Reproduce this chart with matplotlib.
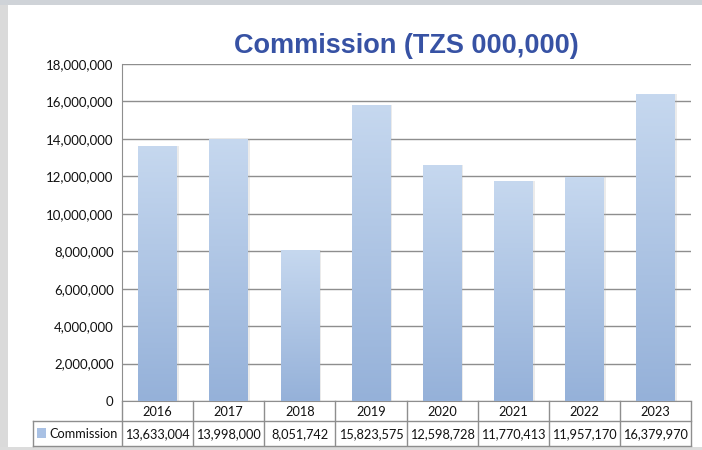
import numpy as np
import matplotlib
matplotlib.use('Agg')
import matplotlib.pyplot as plt
from matplotlib.patches import Rectangle
from matplotlib.transforms import blended_transform_factory
from matplotlib.ticker import FuncFormatter

# data
years = ['2016', '2017', '2018', '2019', '2020', '2021', '2022', '2023']
commission = [13633004, 13998000, 8051742, 15823575, 12598728, 11770413, 11957170, 16379970]
yticks = [0, 2000000, 4000000, 6000000, 8000000, 10000000, 12000000, 14000000, 16000000, 18000000]

W, H = 702, 450
fig = plt.figure(figsize=(W / 100, H / 100), dpi=100)
fig.patch.set_facecolor('white')

# window frame remnants
fig.patches.append(Rectangle((0, 0), 8 / W, 1, transform=fig.transFigure,
                             facecolor='#dadada', edgecolor='none', zorder=0))
fig.patches.append(Rectangle((0, 1 - 5 / H), 1, 5 / H, transform=fig.transFigure,
                             facecolor='#cfd3d8', edgecolor='none', zorder=0))
fig.patches.append(Rectangle((0, 0), 1, 3 / H, transform=fig.transFigure,
                             facecolor='#dcdcdc', edgecolor='none', zorder=0))

left, right, top, bottom = 122, 691, 64, 401
ax = fig.add_axes([left / W, 1 - bottom / H, (right - left) / W, (bottom - top) / H])

grid_c = '#8e8e8e'
x = np.arange(len(years))
bw = 0.54

# soft shadow
ax.bar(x + 0.03, commission, width=bw, color='#b0b0b0', alpha=0.25, zorder=2, linewidth=0)
bars = ax.bar(x, commission, width=bw, color='#b0c7e6', zorder=3, linewidth=0)

# vertical gradient inside bars
grad = np.linspace(0, 1, 256).reshape(-1, 1)
cmap = matplotlib.colors.LinearSegmentedColormap.from_list('g', ['#95b1d9', '#c6d8ef'])
for b in bars:
    bx, by, bwid, bh = b.get_x(), b.get_y(), b.get_width(), b.get_height()
    im = ax.imshow(grad, cmap=cmap, aspect='auto', origin='lower',
                   extent=[bx, bx + bwid, by, by + bh], zorder=4)
    im.set_clip_path(b)

ax.set_xlim(-0.5, len(years) - 0.5)
ax.set_ylim(0, 18000000)
ax.set_yticks(yticks)
ax.yaxis.set_major_formatter(FuncFormatter(lambda v, p: f'{int(v):,}'))
ax.grid(axis='y', color=grid_c, linewidth=1, zorder=1)
ax.set_xticks([])
ax.tick_params(axis='y', length=0, pad=6, labelsize=9.5)
for lab in ax.get_yticklabels():
    lab.set_fontfamily('Lato')
    lab.set_color('#111111')
for s in ['top', 'right']:
    ax.spines[s].set_visible(False)
ax.spines['left'].set_color(grid_c)
ax.spines['bottom'].set_color(grid_c)

# title
fig.text((left + right) / 2 / W, 1 - 53 / H, 'Commission (TZS 000,000)',
         ha='center', va='baseline', fontsize=19.5, fontweight='bold',
         color='#3752a4', family='Liberation Sans')

# data table below the axis
tr = blended_transform_factory(ax.transData, fig.transFigure)
y_top = 1 - bottom / H
y_mid = 1 - 421 / H
y_bot = 1 - 446 / H
for i in range(len(years) + 1):
    ax.plot([i - 0.5, i - 0.5], [y_top, y_bot], transform=tr, color=grid_c,
            lw=1, clip_on=False)
x_leg = 33 / W
for yy in [y_mid, y_bot]:
    fig.add_artist(plt.Line2D([x_leg, right / W], [yy, yy], color=grid_c, lw=1))
fig.add_artist(plt.Line2D([x_leg, x_leg], [y_mid, y_bot], color=grid_c, lw=1))

for i, (yr, v) in enumerate(zip(years, commission)):
    ax.text(i, 1 - 412 / H, yr, transform=tr, ha='center', va='center',
            fontsize=9.2, family='Lato', color='#111111')
    ax.text(i, 1 - 434 / H, f'{v:,}', transform=tr, ha='center', va='center',
            fontsize=9.2, family='Lato', color='#111111')

fig.patches.append(Rectangle((37 / W, 1 - 438 / H), 9 / W, 10 / H,
                             transform=fig.transFigure, facecolor='#a9c1e4',
                             edgecolor='none'))
fig.text(49 / W, 1 - 434 / H, 'Commission', ha='left', va='center',
         fontsize=9.2, family='Lato', color='#111111')

fig.savefig('out.png', dpi=100)
